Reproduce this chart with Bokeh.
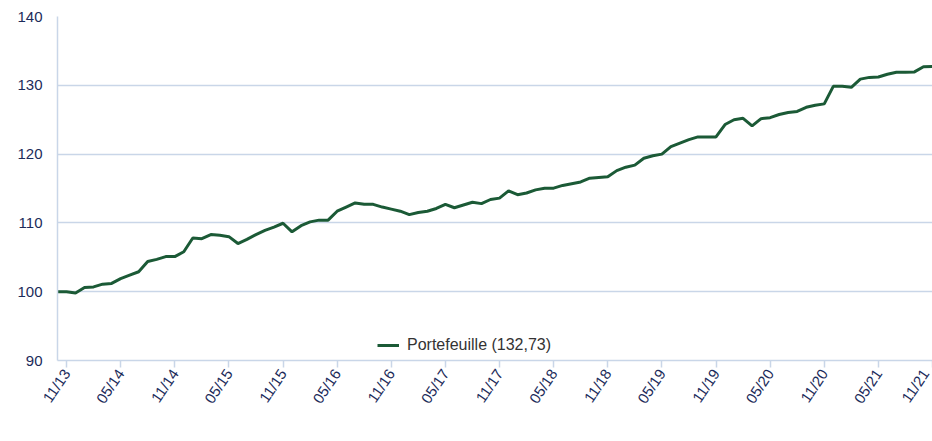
import math
from bokeh.plotting import figure
from bokeh.models import FixedTicker, Range1d, Legend, LegendItem
from bokeh.embed import file_html
from bokeh.resources import INLINE

# Monthly portfolio index, Oct 2013 .. Nov 2021 (base 100)
values = [100.0, 100.0, 99.8, 100.6, 100.7, 101.1, 101.2, 101.9, 102.4, 102.9,
          104.4, 104.7, 105.1, 105.1, 105.8, 107.8, 107.7, 108.3, 108.2, 108.0,
          107.0, 107.6, 108.3, 108.9, 109.4, 109.95, 108.7, 109.6, 110.15, 110.4,
          110.4, 111.7, 112.3, 112.9, 112.7, 112.7, 112.3, 112.0, 111.7, 111.2,
          111.5, 111.7, 112.1, 112.7, 112.2, 112.6, 113.0, 112.8, 113.4, 113.6,
          114.65, 114.1, 114.35, 114.8, 115.05, 115.05, 115.45, 115.7, 115.95, 116.5,
          116.6, 116.7, 117.6, 118.1, 118.4, 119.4, 119.75, 120.0, 121.1, 121.6,
          122.1, 122.5, 122.5, 122.5, 124.3, 125.0, 125.2, 124.1, 125.15, 125.3,
          125.75, 126.05, 126.2, 126.8, 127.1, 127.3, 129.85, 129.85, 129.7, 130.9,
          131.15, 131.2, 131.6, 131.9, 131.9, 131.95, 132.7, 132.73]

# month labels MM/YY starting 10/13
months = [f"{(9 + k) % 12 + 1:02d}/{13 + (9 + k) // 12}" for k in range(len(values))]
x = list(range(len(values)))
tick_pos = [k for k in x if months[k][:2] in ("05", "11")]
y_ticks = [90, 100, 110, 120, 130, 140]
series_name = "Portefeuille (132,73)"

GRID = "#c9d6e8"
LABEL = "#1c2b5a"
GREEN = "#1b5a36"
FONT = "Liberation Sans"

p = figure(width=932, height=441, output_backend="svg", toolbar_location=None,
           x_range=Range1d(0, len(values) - 1), y_range=Range1d(90, 140),
           min_border_left=57, min_border_right=0, min_border_top=16,
           min_border_bottom=81)
p.outline_line_color = None
p.background_fill_color = "white"
p.border_fill_color = "white"

r = p.line(x, values, line_color=GREEN, line_width=3)

p.xgrid.grid_line_color = None
p.ygrid.grid_line_color = GRID
p.ygrid.grid_line_width = 1.5
p.ygrid.ticker = FixedTicker(ticks=y_ticks)

p.yaxis.ticker = FixedTicker(ticks=y_ticks)
p.yaxis.axis_line_color = GRID
p.yaxis.axis_line_width = 1.5
p.yaxis.major_tick_line_color = None
p.yaxis.minor_tick_line_color = None
p.yaxis.major_label_text_color = LABEL
p.yaxis.major_label_text_font = FONT
p.yaxis.major_label_text_font_size = "15px"
p.yaxis.major_label_standoff = 9

p.xaxis.ticker = FixedTicker(ticks=tick_pos)
p.xaxis.major_label_overrides = {k: months[k] for k in tick_pos}
p.xaxis.axis_line_color = GRID
p.xaxis.axis_line_width = 1.5
p.xaxis.major_tick_line_color = GRID
p.xaxis.major_tick_line_width = 1.5
p.xaxis.major_tick_out = 7
p.xaxis.major_tick_in = 0
p.xaxis.minor_tick_line_color = None
p.xaxis.major_label_orientation = math.radians(56)
p.xaxis.major_label_text_color = LABEL
p.xaxis.major_label_text_font = FONT
p.xaxis.major_label_text_font_size = "15px"
p.xaxis.major_label_standoff = 3

legend = Legend(items=[LegendItem(label=series_name, renderers=[r])],
                location=(320, 6), orientation="horizontal",
                border_line_color=None, background_fill_alpha=0,
                padding=0, margin=0, spacing=0,
                glyph_width=22, glyph_height=16, label_height=16,
                label_standoff=8, label_text_font=FONT,
                label_text_font_size="16px", label_text_color="#333333")
p.add_layout(legend, "center")

open("out.html", "w").write(file_html(p, INLINE))
